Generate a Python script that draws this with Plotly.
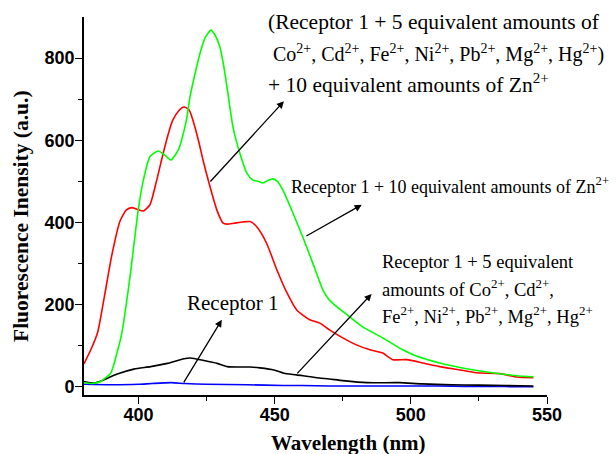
import plotly.graph_objects as go

# ---------------- data ----------------
wl_red = [380, 382.5, 385, 387.5, 390.2, 393.2, 395.5, 397.5, 399.5, 401.8, 404.2, 406.7, 409.1,
          411.5, 412.6, 414.8, 416.7, 418.5, 420, 422, 423.7, 425.9, 428.8, 431, 432.5, 435, 438.3,
          441, 443.5, 447, 450.8, 454.5, 458.1, 462.9, 466.6, 470, 475, 480, 485, 489.7, 493.4,
          498.5, 504.4, 510.6, 518, 524, 532.6, 538.8, 545]
int_red = [56, 90, 132, 220, 320, 403, 430, 436, 432, 428, 443, 503, 569,
           628, 649, 672, 681, 675, 649, 600, 552, 496, 430, 399, 396, 398, 401,
           402, 389, 350, 285, 229, 187, 163, 155, 139, 119, 102, 90, 82, 66,
           66, 58, 49, 41, 34, 32, 24, 22]

wl_green = [380, 383, 385.9, 388, 389.8, 391, 392.2, 393.2, 394.3, 395.5, 396.9, 398.1, 399.9, 401.8,
            404.2, 407.3, 410.3, 411.9, 414.6, 417.6, 418.9, 420.7, 422.6, 424.5,
            426.6, 428.2, 429.9, 431.2, 432.5, 434.7, 437.2, 439.8, 442, 444, 445.7, 447.5, 449.3,
            451, 453, 456.7, 460.3, 464, 467.7, 470, 472.8, 477.6, 482.3, 489.7, 497, 502, 510.6,
            520.5, 530, 538.8, 545]
int_green = [10, 8, 12, 22, 33, 55, 85, 110, 146, 200, 268, 333, 430, 503,
             560, 574, 560, 552, 576, 649, 705, 760, 812, 850,
             868, 855, 827, 785, 730, 632, 569, 520, 503, 500, 496, 502, 506,
             500, 479, 423, 365, 301, 236, 212, 195, 170, 146, 119, 90, 75, 58,
             44, 34, 27, 24]

wl_black = [380, 383.7, 387.3, 392.2, 398.3, 404.5, 410.6, 416.7, 419.1, 424, 428.9, 432.6, 437,
            441.1, 444.6, 449.7, 453.4, 458, 465.5, 470, 475, 483.8, 495.9, 504, 515, 525, 535, 545]
int_black = [13, 9, 17, 31, 43, 49, 57, 68, 70, 64, 57, 49, 48,
             48, 46, 41, 33, 29, 22, 19, 15, 10, 10, 7, 5, 4, 3, 2]

wl_blue = [380, 390, 400, 405, 412, 417, 425, 440, 453, 460, 470, 480, 490, 500,
           510, 520, 530, 540, 545]
int_blue = [6, 5, 6, 8, 10, 8, 6, 5, 3, 3, 2, 2, 2, 2, 2, 1, 1, 0, 0]

x_ticks = [400, 450, 500, 550]
y_ticks = [0, 200, 400, 600, 800]

label_mix_lines = ["(Receptor 1 + 5 equivalent amounts of",
                   "Co<sup>2+</sup>, Cd<sup>2+</sup>, Fe<sup>2+</sup>, Ni<sup>2+</sup>, Pb<sup>2+</sup>, Mg<sup>2+</sup>, Hg<sup>2+</sup>)",
                   "+ 10 equivalent amounts of Zn<sup>2+</sup>"]
label_zn = "Receptor 1 + 10 equivalent amounts of Zn<sup>2+</sup>"
label_metals_lines = ["Receptor 1 + 5 equivalent",
                      "amounts of Co<sup>2+</sup>, Cd<sup>2+</sup>,",
                      "Fe<sup>2+</sup>, Ni<sup>2+</sup>, Pb<sup>2+</sup>, Mg<sup>2+</sup>, Hg<sup>2+</sup>"]
label_rec = "Receptor 1"

# arrows: (tail wavelength, tail intensity, head wavelength, head intensity)
arrow_mix = (425.9, 496, 453.4, 695)
arrow_zn = (461.1, 365, 482.0, 443)
arrow_metals = (457.8, 29, 485.6, 226)
arrow_rec = (416.3, 7, 430.6, 163)

# ---------------- figure ----------------
SERIF = "Liberation Serif, Times New Roman, serif"
SANS = "Liberation Sans, Arial, sans-serif"

fig = go.Figure()
for wl, it, col in [(wl_blue, int_blue, "#0000ff"), (wl_black, int_black, "#000000"),
                    (wl_red, int_red, "#ff0000"), (wl_green, int_green, "#00ff00")]:
    fig.add_trace(go.Scatter(x=wl, y=it, mode="lines",
                             line=dict(color=col, width=1.6, shape="spline", smoothing=0.6),
                             showlegend=False, hoverinfo="skip"))

L, R, T, B = 84, 69, 17, 59
W, H = 616, 454
pw, ph = W - L - R, H - T - B


def px(xp):
    return (xp - L) / pw


def py(yp):
    return (H - B - yp) / ph


annotations = []
mix_sizes = [21.5, 20, 21.5]
mix_x = [266, 271, 266]
for i, line in enumerate(label_mix_lines):
    annotations.append(dict(text=line, x=px(mix_x[i]), y=py([22, 53, 84][i]), xref="paper", yref="paper",
                            xanchor="left", yanchor="middle", showarrow=False,
                            font=dict(family=SERIF, size=mix_sizes[i], color="black")))
annotations.append(dict(text=label_zn, x=px(289), y=py(185), xref="paper", yref="paper",
                        xanchor="left", yanchor="middle", showarrow=False,
                        font=dict(family=SERIF, size=18, color="black")))
for i, line in enumerate(label_metals_lines):
    annotations.append(dict(text=line, x=px(380), y=py([262, 288, 315][i]), xref="paper", yref="paper",
                            xanchor="left", yanchor="middle", showarrow=False,
                            font=dict(family=SERIF, size=18.5, color="black")))
annotations.append(dict(text=label_rec, x=px(185), y=py(303), xref="paper", yref="paper",
                        xanchor="left", yanchor="middle", showarrow=False,
                        font=dict(family=SERIF, size=21, color="black")))

for (tx, ty, hx, hy) in [arrow_mix, arrow_zn, arrow_metals, arrow_rec]:
    annotations.append(dict(text="", x=hx, y=hy, ax=tx, ay=ty, xref="x", yref="y",
                            axref="x", ayref="y", showarrow=True, arrowhead=2,
                            arrowsize=1.1, arrowwidth=1.3, arrowcolor="black"))

# axis titles
annotations.append(dict(text="<b>Wavelength (nm)</b>", x=px(348), y=py(443), xref="paper", yref="paper",
                        xanchor="center", yanchor="middle", showarrow=False,
                        font=dict(family=SERIF, size=21, color="black")))
annotations.append(dict(text="<b>Fluorescence Inensity (a.u.)</b>", x=px(21), y=py(216), xref="paper",
                        yref="paper", xanchor="center", yanchor="middle", showarrow=False, textangle=-90,
                        font=dict(family=SERIF, size=21.5, color="black")))

fig.update_layout(
    width=W, height=H,
    margin=dict(l=L, r=R, t=T, b=B, pad=0),
    paper_bgcolor="white", plot_bgcolor="white",
    annotations=annotations,
    xaxis=dict(range=[380, 550], tickvals=x_ticks, ticks="outside", ticklen=7, tickwidth=1.3,
               showline=True, linecolor="black", linewidth=1.6, showgrid=False, zeroline=False,
               ticklabelstandoff=-4,
               tickfont=dict(family=SANS, size=18, color="black", weight="bold"),
               minor=dict(tickvals=[425, 475, 525], ticks="outside", ticklen=4, tickwidth=1.2,
                          tickcolor="black"),
               tickcolor="black"),
    yaxis=dict(range=[-20, 900], tickvals=y_ticks, ticks="outside", ticklen=7, tickwidth=1.3,
               showline=True, linecolor="black", linewidth=1.6, showgrid=False, zeroline=False,
               ticklabelstandoff=-3,
               tickfont=dict(family=SANS, size=18, color="black", weight="bold"),
               minor=dict(tickvals=[100, 300, 500, 700], ticks="outside", ticklen=4, tickwidth=1.2,
                          tickcolor="black"),
               tickcolor="black"),
)

fig.write_html("out.html", config={"displayModeBar": False},
               post_script="document.body.style.margin='0';")
